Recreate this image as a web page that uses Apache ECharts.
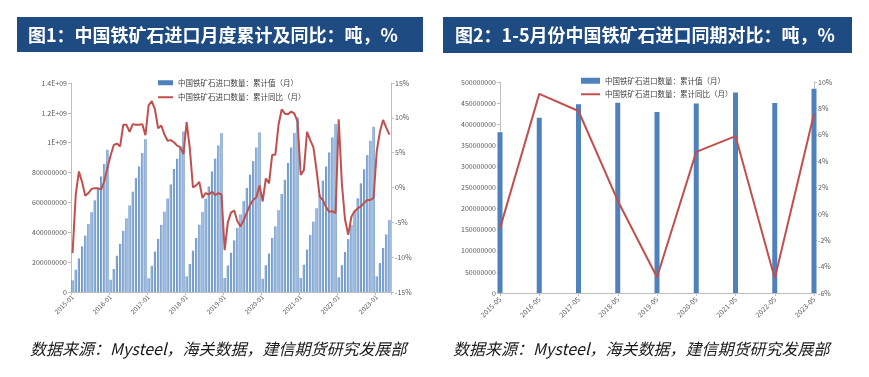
<!DOCTYPE html>
<html>
<head>
<meta charset="utf-8">
<script src="https://cdn.jsdelivr.net/npm/echarts@6/dist/echarts.min.js"></script>
<style>
html,body{margin:0;padding:0;background:#fff;}
#c{width:869px;height:377px;}
</style>
</head>
<body>
<div id="c"></div>
<script>
// ---------- Chart 1: monthly cumulative imports (tonnes) & YoY (%) ----------
const years = ['2015','2016','2017','2018','2019','2020','2021','2022','2023'];
const monthsPerYear = [12,12,12,12,12,12,12,12,5];

const cum2015 = [78e6,149e6,225e6,306e6,378e6,456e6,535e6,614e6,690e6,774e6,857e6,953e6];
const cum2016 = [82e6,154e6,243e6,323e6,410e6,494e6,580e6,672e6,763e6,841e6,931e6,1024e6];
const cum2017 = [92e6,175e6,271e6,356e6,450e6,538e6,626e6,721e6,824e6,893e6,975e6,1075e6];
const cum2018 = [105e6,188e6,277e6,362e6,451e6,536e6,625e6,707e6,808e6,893e6,982e6,1064e6];
const cum2019 = [94e6,177e6,263e6,346e6,430e6,520e6,609e6,697e6,786e6,877e6,968e6,1069e6];
const cum2020 = [89e6,179e6,258e6,362e6,440e6,548e6,656e6,752e6,864e6,968e6,1066e6,1170e6];
const cum2021 = [94e6,183e6,284e6,382e6,471e6,561e6,650e6,746e6,841e6,935e6,1036e6,1125e6];
const cum2022 = [98e6,180e6,268e6,354e6,450e6,545e6,628e6,728e6,822e6,917e6,1013e6,1107e6];
const cum2023 = [105e6,194e6,295e6,386e6,482e6];

const yoy2015 = [-9.4,-1.0,2.3,0.8,-1.2,-0.8,-0.2,-0.1,-0.1,-0.3,0.9,2.8];
const yoy2016 = [4.6,6.1,6.3,5.9,9.0,9.0,8.0,9.1,9.0,9.0,9.1,7.5];
const yoy2017 = [11.8,12.4,11.2,8.5,8.9,7.6,6.7,6.8,6.5,6.0,5.8,4.8];
const yoy2018 = [9.4,5.6,0.0,0.3,0.8,-1.5,-0.8,-1.0,-0.6,-1.1,-0.8,-1.0];
const yoy2019 = [-9.0,-5.0,-3.6,-3.3,-4.8,-5.6,-4.7,-3.6,-2.5,-1.8,-1.4,0.3];
const yoy2020 = [-2.0,1.3,0.6,4.7,4.7,9.0,11.2,10.6,10.5,10.9,10.6,9.5];
const yoy2021 = [1.8,2.5,8.0,6.8,5.8,2.5,-1.3,-1.8,-2.8,-3.5,-3.4,-3.7];
const yoy2022 = [9.8,0.5,-4.6,-6.8,-4.2,-3.4,-3.0,-2.7,-2.2,-1.8,-1.8,-1.5];
const yoy2023 = [5.2,8.0,9.7,8.6,7.6];

const volTickLabels = ['0','200000000','400000000','600000000','800000000','1E+09','1.2E+09','1.4E+09'];

// ---------- Chart 2: Jan-May comparison ----------
const periods = ['2015-05','2016-05','2017-05','2018-05','2019-05','2020-05','2021-05','2022-05','2023-05'];
const janMayCum = [381e6,415e6,447e6,451e6,429e6,449e6,475e6,450e6,484e6];
const janMayYoY = [-1.1,9.1,7.8,1.0,-4.8,4.7,5.9,-4.9,7.6];

const nameCum = '中国铁矿石进口数量：累计值（月）';
const nameYoY = '中国铁矿石进口数量：累计同比（月）';

// build month categories
const months = [];
years.forEach((y, k) => {
  for (let m = 1; m <= monthsPerYear[k]; m++) months.push(y + '-' + (m < 10 ? '0' + m : m));
});
const cumAll = [].concat(cum2015,cum2016,cum2017,cum2018,cum2019,cum2020,cum2021,cum2022,cum2023);
const yoyAll = [].concat(yoy2015,yoy2016,yoy2017,yoy2018,yoy2019,yoy2020,yoy2021,yoy2022,yoy2023);

const FONT = '"Noto Sans CJK SC","Noto Sans",sans-serif';
const labelColor = '#595959';
const axisColor = '#bfbfbf';
const barColor = '#4f81bd';
const lineColor = '#c0504d';

const chart = echarts.init(document.getElementById('c'), null, {renderer: 'canvas'});

const barGrad = new echarts.graphic.LinearGradient(0, 0, 1, 0, [
  {offset: 0, color: '#4a7bb7'},
  {offset: 0.5, color: '#9fc0e4'},
  {offset: 1, color: '#4a7bb7'}
]);

const yAxisCommon = {
  axisLine: {show: true, lineStyle: {color: axisColor}},
  axisTick: {show: true, length: 3, lineStyle: {color: axisColor}},
  splitLine: {show: false},
  axisLabel: {color: labelColor, fontSize: 7, fontFamily: FONT, margin: 4}
};

chart.setOption({
  animation: false,
  backgroundColor: '#ffffff',
  textStyle: {fontFamily: FONT},
  graphic: [
    {type: 'rect', shape: {x: 17, y: 17, width: 406, height: 35}, style: {fill: '#1f4b83'}},
    {type: 'text', x: 28, y: 35, style: {text: '图1：中国铁矿石进口月度累计及同比：吨，%', fill: '#ffffff', font: 'bold 18px ' + FONT, textVerticalAlign: 'middle'}},
    {type: 'rect', shape: {x: 443, y: 17, width: 409, height: 36}, style: {fill: '#1f4b83'}},
    {type: 'text', x: 455, y: 35, style: {text: '图2：1-5月份中国铁矿石进口同期对比：吨，%', fill: '#ffffff', font: 'bold 18px ' + FONT, textVerticalAlign: 'middle'}},
    {type: 'text', x: 30, y: 349, style: {text: '数据来源：Mysteel，海关数据，建信期货研究发展部', fill: '#1a1a1a', font: 'italic 16px ' + FONT, textVerticalAlign: 'middle'}},
    {type: 'text', x: 453, y: 349, style: {text: '数据来源：Mysteel，海关数据，建信期货研究发展部', fill: '#1a1a1a', font: 'italic 16px ' + FONT, textVerticalAlign: 'middle'}}
  ],
  legend: [
    {
      orient: 'vertical', left: 153, top: 74, itemWidth: 15, itemHeight: 5, itemGap: 7,
      textStyle: {fontSize: 7.5, color: '#404040', fontFamily: FONT},
      data: [
        {name: nameCum, icon: 'rect', itemStyle: {color: barColor}},
        {name: nameYoY, icon: 'path://M0,0 L15,0 L15,2 L0,2 Z', itemStyle: {color: lineColor}}
      ]
    },
    {
      orient: 'vertical', left: 576, top: 72, itemWidth: 19, itemHeight: 6, itemGap: 6,
      textStyle: {fontSize: 7.5, color: '#404040', fontFamily: FONT},
      data: [
        {name: nameCum, icon: 'rect', itemStyle: {color: barColor}},
        {name: nameYoY, icon: 'path://M0,0 L19,0 L19,2 L0,2 Z', itemStyle: {color: lineColor}}
      ]
    }
  ],
  grid: [
    {left: 71, right: 478, top: 83, bottom: 85},
    {left: 500, right: 55, top: 82, bottom: 84}
  ],
  xAxis: [
    {
      type: 'category', gridIndex: 0, data: months, boundaryGap: true,
      axisLine: {lineStyle: {color: axisColor}},
      axisTick: {show: true, interval: 11, length: 3, lineStyle: {color: axisColor}},
      axisLabel: {interval: 11, rotate: 45, fontSize: 6.5, color: labelColor, fontFamily: FONT, margin: 4}
    },
    {
      type: 'category', gridIndex: 1, data: periods, boundaryGap: false,
      axisLine: {lineStyle: {color: axisColor}},
      axisTick: {show: true, length: 3, lineStyle: {color: axisColor}},
      axisLabel: {interval: 0, rotate: 45, fontSize: 7, color: labelColor, fontFamily: FONT, margin: 5}
    }
  ],
  yAxis: [
    Object.assign({}, yAxisCommon, {
      type: 'value', gridIndex: 0, position: 'left', min: 0, max: 1.4e9, interval: 2e8,
      axisLabel: Object.assign({}, yAxisCommon.axisLabel, {formatter: v => volTickLabels[Math.round(v / 2e8)]})
    }),
    Object.assign({}, yAxisCommon, {
      type: 'value', gridIndex: 0, position: 'right', min: -15, max: 15, interval: 5,
      axisLabel: Object.assign({}, yAxisCommon.axisLabel, {formatter: '{value}%'})
    }),
    Object.assign({}, yAxisCommon, {
      type: 'value', gridIndex: 1, position: 'left', min: 0, max: 5e8, interval: 5e7,
      axisLabel: Object.assign({}, yAxisCommon.axisLabel, {formatter: v => String(v)})
    }),
    Object.assign({}, yAxisCommon, {
      type: 'value', gridIndex: 1, position: 'right', min: -6, max: 10, interval: 2,
      axisLabel: Object.assign({}, yAxisCommon.axisLabel, {formatter: '{value}%'})
    })
  ],
  series: [
    {
      name: nameCum, type: 'bar', xAxisIndex: 0, yAxisIndex: 0, data: cumAll,
      barWidth: '68%', itemStyle: {color: barGrad}
    },
    {
      name: nameYoY, type: 'line', xAxisIndex: 0, yAxisIndex: 1, data: yoyAll,
      symbol: 'none', lineStyle: {color: lineColor, width: 2}, itemStyle: {color: lineColor}
    },
    {
      name: nameCum, type: 'bar', xAxisIndex: 1, yAxisIndex: 2, data: janMayCum,
      barWidth: 5, clip: false, itemStyle: {color: barColor}
    },
    {
      name: nameYoY, type: 'line', xAxisIndex: 1, yAxisIndex: 3, data: janMayYoY,
      symbol: 'none', lineStyle: {color: lineColor, width: 2}, itemStyle: {color: lineColor}
    }
  ]
});
</script>
</body>
</html>
